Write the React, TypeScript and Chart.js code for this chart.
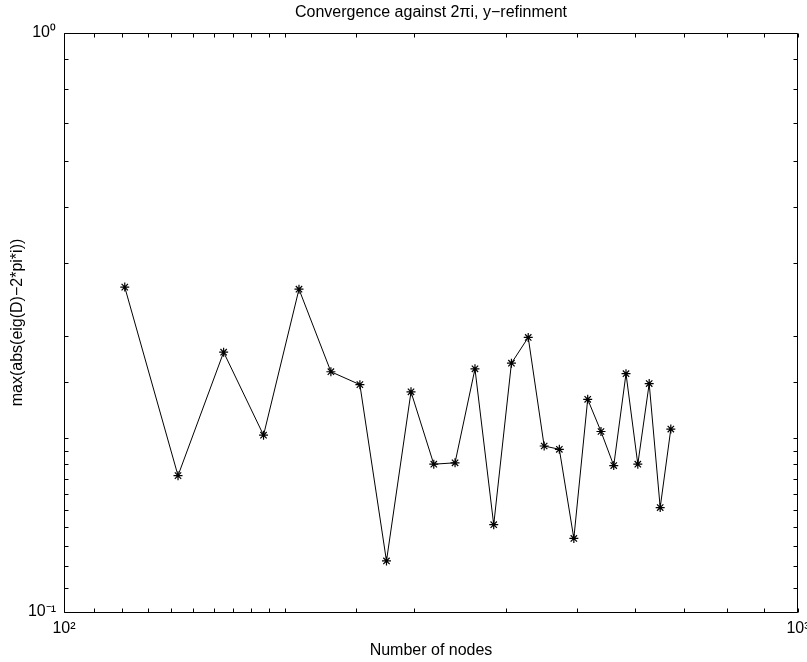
import { useEffect, useRef } from 'react';
import { Chart, registerables } from 'chart.js';

Chart.register(...registerables);

// ---- data ----
const nodes = [121, 143, 165, 187, 209, 231, 253, 275, 297, 319, 341, 363, 385, 407, 429, 451, 473, 495, 517, 539, 561, 583, 605, 627, 649, 671];
const errors = [0.364, 0.172, 0.281, 0.202, 0.361, 0.26, 0.247, 0.1225, 0.24, 0.18, 0.181, 0.263, 0.1415, 0.269, 0.298, 0.1935, 0.191, 0.134, 0.233, 0.205, 0.179, 0.258, 0.18, 0.248, 0.1515, 0.207];

const xMin = 100;
const xMax = 1000;
const yMin = 0.1;
const yMax = 1;

const powerLabels: Record<string, string> = {
  '-1': '10⁻¹',
  '0': '10⁰',
  '2': '10²',
  '3': '10³',
};

const titleText = 'Convergence against 2πi, y−refinment';
const xTitleText = 'Number of nodes';
const yTitleText = 'max(abs(eig(D)−2*pi*i))';

const FONT = "'Liberation Sans', Arial, Helvetica, sans-serif";

function powerLabel(v: number): string {
  const e = Math.log10(v);
  const r = Math.round(e);
  if (Math.abs(e - r) < 1e-9) return powerLabels[String(r)] ?? '';
  return '';
}

const framePlugin = {
  id: 'matlabFrame',
  afterDraw(chart: any) {
    const { ctx, chartArea, scales } = chart;
    const { left, right, top, bottom } = chartArea;
    const L = Math.round(left) + 0.5;
    const R = Math.round(right) - 0.5;
    const T = Math.round(top) + 0.5;
    const B = Math.round(bottom) + 0.5;
    const tick = 4;
    ctx.save();
    ctx.strokeStyle = '#000';
    ctx.lineWidth = 1;
    ctx.beginPath();
    ctx.rect(L, T, R - L, B - T);
    ctx.stroke();
    ctx.beginPath();
    for (const t of scales.x.ticks) {
      const px = Math.round(scales.x.getPixelForValue(t.value)) + 0.5;
      ctx.moveTo(px, B);
      ctx.lineTo(px, B - tick);
      ctx.moveTo(px, T);
      ctx.lineTo(px, T + tick);
    }
    for (const t of scales.y.ticks) {
      const py = Math.round(scales.y.getPixelForValue(t.value)) + 0.5;
      ctx.moveTo(L, py);
      ctx.lineTo(L + tick, py);
      ctx.moveTo(R, py);
      ctx.lineTo(R - tick, py);
    }
    ctx.stroke();
    ctx.restore();
  },
};

export default function App() {
  const canvasRef = useRef<HTMLCanvasElement | null>(null);

  useEffect(() => {
    const canvas = canvasRef.current;
    if (!canvas) return;
    const points = nodes.map((n, i) => ({ x: n, y: errors[i] }));
    const chart = new Chart(canvas, {
      type: 'line',
      data: {
        datasets: [
          {
            data: points,
            borderColor: '#000',
            borderWidth: 1,
            backgroundColor: '#000',
            pointStyle: 'star',
            pointRadius: 4.5,
            pointBorderWidth: 1.2,
            pointBorderColor: '#000',
            pointBackgroundColor: '#000',
            tension: 0,
            fill: false,
          },
        ],
      },
      options: {
        responsive: false,
        animation: false,
        devicePixelRatio: 1,
        parsing: false as any,
        layout: { padding: { left: 0, right: 9, top: 0, bottom: 0 } },
        plugins: {
          legend: { display: false },
          tooltip: { enabled: false },
          title: {
            display: true,
            text: titleText,
            color: '#000',
            fullSize: false,
            font: { family: FONT, size: 16, weight: 'normal', lineHeight: 1.2 },
            padding: { top: 3, bottom: 10.8 },
          },
        },
        scales: {
          x: {
            type: 'logarithmic',
            min: xMin,
            max: xMax,
            grid: { display: false, drawTicks: false },
            border: { display: false },
            ticks: {
              autoSkip: false,
              maxRotation: 0,
              minRotation: 0,
              padding: 7,
              color: '#000',
              font: { family: FONT, size: 16 },
              callback: (v: any) => powerLabel(Number(v)),
            },
            title: {
              display: true,
              text: xTitleText,
              color: '#000',
              font: { family: FONT, size: 16, lineHeight: 1.2 },
              padding: { top: 0, bottom: 2 },
            },
            afterFit(s: any) {
              s.height = 50;
              s.paddingLeft = 0;
              s.paddingRight = 0;
            },
          },
          y: {
            type: 'logarithmic',
            min: yMin,
            max: yMax,
            grid: { display: false, drawTicks: false },
            border: { display: false },
            ticks: {
              autoSkip: false,
              padding: 8,
              color: '#000',
              font: { family: FONT, size: 16 },
              callback: (v: any) => powerLabel(Number(v)),
            },
            title: {
              display: true,
              text: yTitleText,
              color: '#000',
              font: { family: FONT, size: 16, lineHeight: 1.2 },
              padding: { top: 8, bottom: 0 },
            },
            afterFit(s: any) {
              s.width = 64;
              s.paddingTop = 0;
              s.paddingBottom = 0;
            },
          },
        },
      } as any,
      plugins: [framePlugin],
    });
    return () => chart.destroy();
  }, []);

  return (
    <div style={{ position: 'absolute', left: 0, top: 0, width: 807, height: 662, background: '#fff' }}>
      <canvas ref={canvasRef} width={807} height={662} style={{ width: 807, height: 662, display: 'block' }} />
    </div>
  );
}
